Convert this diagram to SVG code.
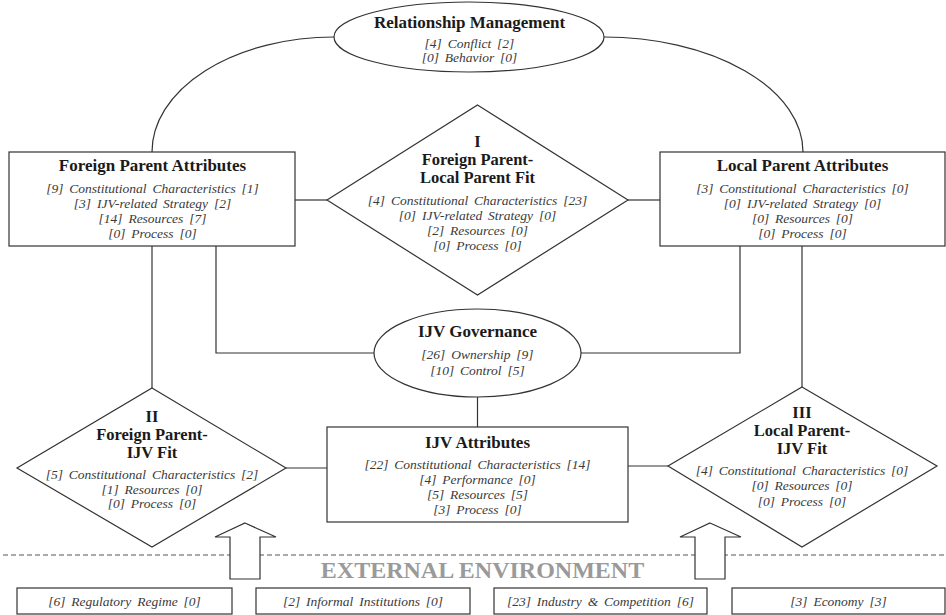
<svg xmlns="http://www.w3.org/2000/svg" width="946" height="615" viewBox="0 0 946 615">
<style>
.shape{fill:#fff;stroke:#333;stroke-width:1.2}
.line{fill:none;stroke:#333;stroke-width:1.2}
.t{font-family:"Liberation Serif","Times New Roman",serif;font-weight:bold;font-size:17px;fill:#1a1a1a;text-anchor:middle}
.d{font-size:16.5px}
.i{font-family:"Liberation Serif","Times New Roman",serif;font-style:italic;font-size:13.5px;fill:#3a3a3a;text-anchor:middle;word-spacing:2.5px}
.env{font-family:"Liberation Serif","Times New Roman",serif;font-weight:bold;font-size:24px;fill:#9a9a9a;text-anchor:middle}
</style>
<rect width="946" height="615" fill="#fff"/>
<g id="connectors">
<path class="line" d="M334,37 A182,115 0 0 0 152,152"/>
<path class="line" d="M604,37 A199,115 0 0 1 803,152"/>
<line class="line" x1="295" y1="200" x2="327" y2="200"/>
<line class="line" x1="628" y1="200" x2="660" y2="200"/>
<line class="line" x1="152" y1="246" x2="152" y2="388"/>
<polyline class="line" points="216,246 216,353 374,353"/>
<polyline class="line" points="740,246 740,353 581,353"/>
<line class="line" x1="802" y1="246" x2="802" y2="387"/>
<line class="line" x1="477.5" y1="397" x2="477.5" y2="427"/>
<line class="line" x1="286" y1="468" x2="327" y2="468"/>
<line class="line" x1="628" y1="466" x2="668" y2="466"/>
</g>
<g id="dashed-boundary">
<line x1="3" y1="555" x2="946" y2="555" stroke="#555" stroke-width="1.2" stroke-dasharray="5,3"/>
</g>
<g id="relationship-management">
<ellipse class="shape" cx="469" cy="37" rx="135" ry="35"/>
<text class="t" x="469.5" y="28">Relationship Management</text>
<text class="i" x="469.5" y="47.5">[4] Conflict [2]</text>
<text class="i" x="469.5" y="61.5">[0] Behavior [0]</text>
</g>
<g id="foreign-parent">
<rect class="shape" x="9" y="152" width="286" height="94"/>
<text class="t" x="152.5" y="171">Foreign Parent Attributes</text>
<text class="i" x="152.5" y="192.5">[9] Constitutional Characteristics [1]</text>
<text class="i" x="152.5" y="207.5">[3] IJV-related Strategy [2]</text>
<text class="i" x="152.5" y="222.5">[14] Resources [7]</text>
<text class="i" x="152.5" y="237.5">[0] Process [0]</text>
</g>
<g id="fit-I">
<polygon class="shape" points="477.5,105 628,200 477.5,295 327,200"/>
<text class="t d" x="477.5" y="147">I</text>
<text class="t d" x="477.5" y="165">Foreign Parent-</text>
<text class="t d" x="477.5" y="183">Local Parent Fit</text>
<text class="i" x="477.5" y="204.5">[4] Constitutional Characteristics [23]</text>
<text class="i" x="477.5" y="219.5">[0] IJV-related Strategy [0]</text>
<text class="i" x="477.5" y="234.5">[2] Resources [0]</text>
<text class="i" x="477.5" y="249.5">[0] Process [0]</text>
</g>
<g id="local-parent">
<rect class="shape" x="660" y="152" width="285" height="94"/>
<text class="t" x="802.5" y="171">Local Parent Attributes</text>
<text class="i" x="802.5" y="192.5">[3] Constitutional Characteristics [0]</text>
<text class="i" x="802.5" y="207.5">[0] IJV-related Strategy [0]</text>
<text class="i" x="802.5" y="222.5">[0] Resources [0]</text>
<text class="i" x="802.5" y="237.5">[0] Process [0]</text>
</g>
<g id="ijv-governance">
<ellipse class="shape" cx="477.5" cy="353" rx="103.5" ry="44"/>
<text class="t" x="477.5" y="337">IJV Governance</text>
<text class="i" x="477.5" y="358.5">[26] Ownership [9]</text>
<text class="i" x="477.5" y="374.5">[10] Control [5]</text>
</g>
<g id="ijv-attributes">
<rect class="shape" x="327" y="427" width="301" height="95"/>
<text class="t" x="477.5" y="448">IJV Attributes</text>
<text class="i" x="477.5" y="468.5">[22] Constitutional Characteristics [14]</text>
<text class="i" x="477.5" y="483.5">[4] Performance [0]</text>
<text class="i" x="477.5" y="498.5">[5] Resources [5]</text>
<text class="i" x="477.5" y="513.5">[3] Process [0]</text>
</g>
<g id="fit-II">
<polygon class="shape" points="152,388 286,468 152,547 17,468"/>
<text class="t d" x="152" y="422">II</text>
<text class="t d" x="152" y="440">Foreign Parent-</text>
<text class="t d" x="152" y="458">IJV Fit</text>
<text class="i" x="152" y="479">[5] Constitutional Characteristics [2]</text>
<text class="i" x="152" y="493.5">[1] Resources [0]</text>
<text class="i" x="152" y="508">[0] Process [0]</text>
</g>
<g id="fit-III">
<polygon class="shape" points="802,387 937,466 802,547 668,466"/>
<text class="t d" x="802" y="418">III</text>
<text class="t d" x="802" y="436">Local Parent-</text>
<text class="t d" x="802" y="454">IJV Fit</text>
<text class="i" x="802" y="475">[4] Constitutional Characteristics [0]</text>
<text class="i" x="802" y="490">[0] Resources [0]</text>
<text class="i" x="802" y="505.5">[0] Process [0]</text>
</g>
<g id="arrow-left">
<polygon class="shape" points="245,523 276,537 260,537 260,579 230,579 230,537 215,537"/>
</g>
<g id="arrow-right">
<polygon class="shape" points="710,523 741,537 725,537 725,579 695,579 695,537 680,537"/>
</g>
<g id="external-environment">
<text class="env" x="482.5" y="578">EXTERNAL ENVIRONMENT</text>
</g>
<g id="regulatory-regime">
<rect class="shape" x="17" y="588" width="215" height="26"/>
<text class="i" x="124.5" y="605.5">[6] Regulatory Regime [0]</text>
</g>
<g id="informal-institutions">
<rect class="shape" x="256" y="588" width="214" height="26"/>
<text class="i" x="363" y="605.5">[2] Informal Institutions [0]</text>
</g>
<g id="industry-competition">
<rect class="shape" x="494" y="588" width="213" height="26"/>
<text class="i" x="600.5" y="605.5">[23] Industry &amp; Competition [6]</text>
</g>
<g id="economy">
<rect class="shape" x="732" y="588" width="213" height="26"/>
<text class="i" x="838.5" y="605.5">[3] Economy [3]</text>
</g>
</svg>
